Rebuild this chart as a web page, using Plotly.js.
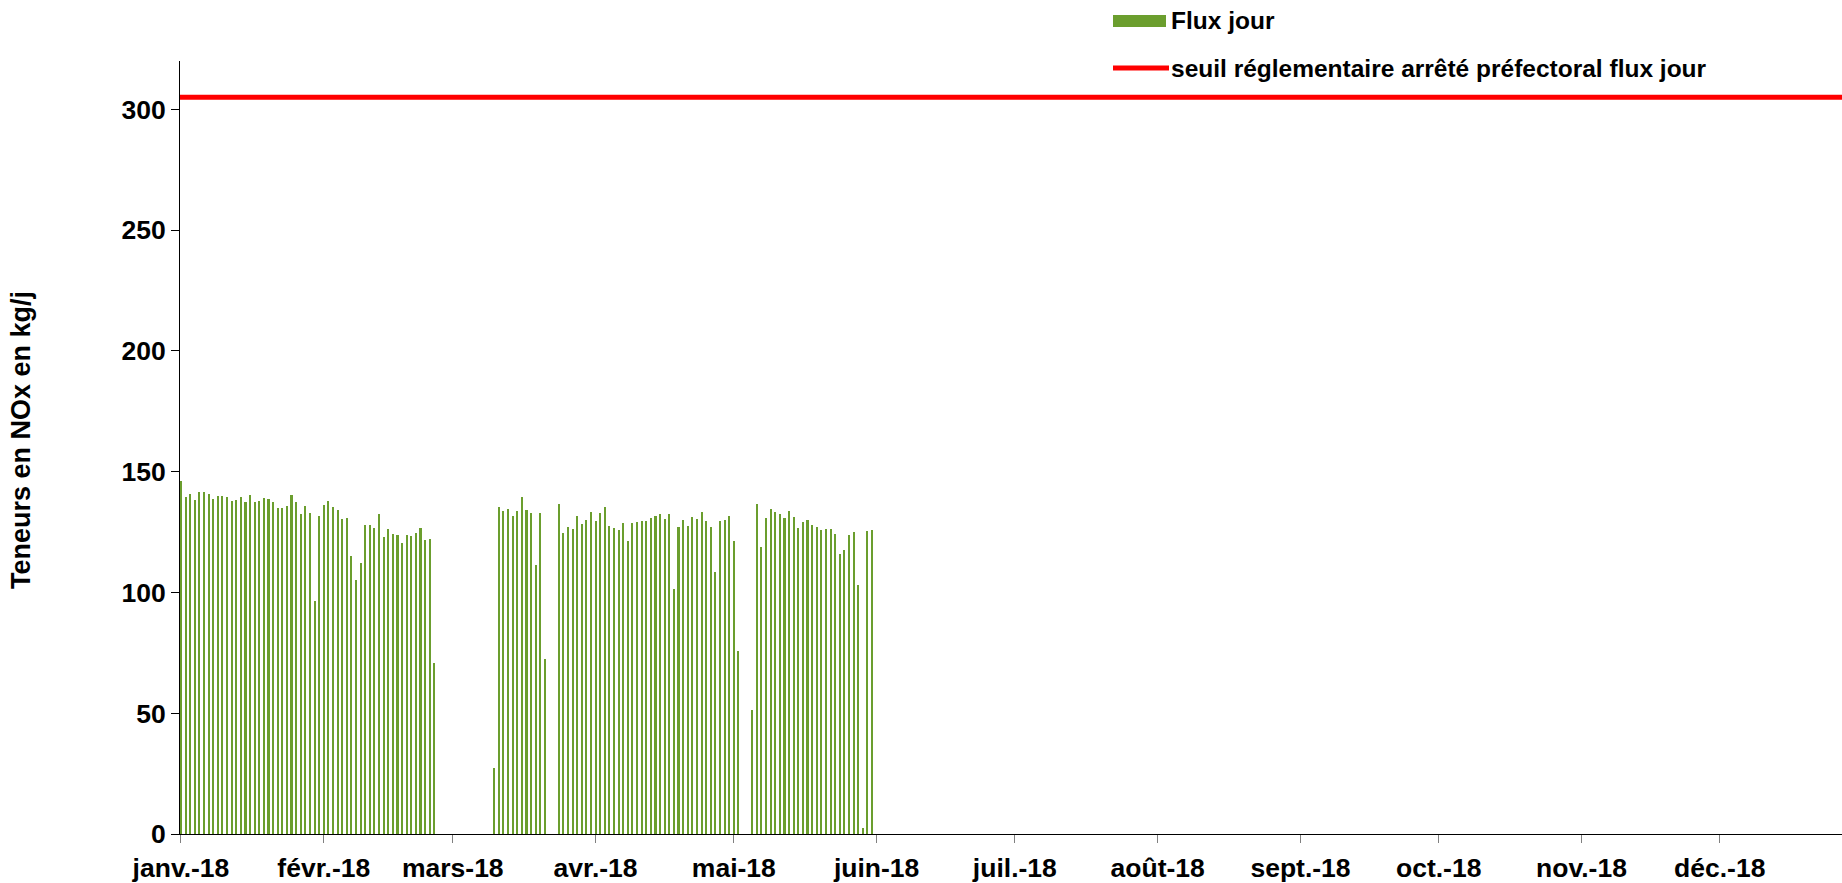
<!DOCTYPE html>
<html>
<head>
<meta charset="utf-8">
<script src="https://cdn.plot.ly/plotly-3.0.1.min.js"></script>
<style>html,body{margin:0;padding:0;background:#fff;}#chart{width:1842px;height:883px;}</style>
</head>
<body>
<div id="chart"></div>
<script>
// Daily NOx flux (kg/j), one value per day of each month; null = no data
const janvier = [146.3, 139.4, 140.6, 138.3, 141.7, 141.4, 140.6, 138.7, 139.8, 139.8,
                 139.4, 138.0, 138.3, 139.5, 137.6, 140.3, 137.6, 137.9, 139.1, 138.7,
                 137.4, 135.0, 134.8, 135.9, 140.3, 137.6, 132.5, 135.6, 132.7, 96.5, 131.6];
const fevrier = [136.2, 138.0, 135.4, 134.1, 130.3, 130.8, 115.1, 105.1, 112.2, 127.9,
                 127.9, 126.8, 132.5, 122.8, 126.3, 124.1, 123.8, 120.6, 123.8, 123.2,
                 124.5, 126.7, 121.8, 122.1, 70.6, null, null, null];
const mars = [null, null, null, null, null, null, null, null, null, 27.5,
              135.2, 133.8, 134.7, 131.6, 133.7, 139.6, 134.1, 132.7, 111.2, 133.0,
              72.3, null, null, 136.6, 124.6, 127.0, 126.3, 131.5, 128.5, 129.8, 133.3];
const avril = [129.4, 132.9, 135.5, 127.5, 126.5, 125.7, 128.7, 121.3, 128.6, 129.0,
               129.6, 129.4, 130.7, 131.5, 132.5, 130.3, 132.5, 101.3, 127.0, 129.8,
               127.5, 131.1, 130.4, 133.2, 129.7, 127.0, 108.5, 129.6, 130.1, 131.5];
const mai = [121.2, 75.6, null, null, 51.4, 136.5, 118.8, 130.7, 134.4, 133.3,
             132.3, 130.8, 133.6, 131.1, 126.8, 129.0, 129.8, 127.8, 127.0, 125.7,
             126.3, 126.1, 124.3, 115.9, 117.6, 123.6, 125.0, 103.2, 2.3, 125.4, 125.8];
const months = [janvier, fevrier, mars, avril, mai];

const seuil = 305;
const tickDates = ['2018-01-01','2018-02-01','2018-03-01','2018-04-01','2018-05-01','2018-06-01',
                   '2018-07-01','2018-08-01','2018-09-01','2018-10-01','2018-11-01','2018-12-01'];
const tickLabels = ['janv.-18','févr.-18','mars-18','avr.-18','mai-18','juin-18',
                    'juil.-18','août-18','sept.-18','oct.-18','nov.-18','déc.-18'];

const dates = [], values = [];
months.forEach((arr, m) => {
  arr.forEach((v, i) => {
    const mm = String(m + 1).padStart(2, '0');
    const dd = String(i + 1).padStart(2, '0');
    dates.push('2018-' + mm + '-' + dd);
    values.push(v);
  });
});

const GREEN = '#6B9E2E';
const RED = '#FF0000';
const FONT = 'Liberation Sans, Arial, sans-serif';

// plot area in pixels
const L = 180, R = 1842, T = 61, B = 834;
const px2x = p => (p - L) / (R - L);
const px2y = p => (B - p) / (B - T);

const traces = [
  {
    type: 'bar', name: 'Flux jour', x: dates, y: values,
    width: 0.45 * 86400000,
    marker: {color: GREEN, line: {width: 0}},
    showlegend: false, hoverinfo: 'x+y'
  },
  {
    type: 'scatter', mode: 'lines', name: 'seuil réglementaire arrêté préfectoral flux jour',
    x: ['2017-12-31', '2018-12-31'], y: [seuil, seuil],
    line: {color: RED, width: 5},
    showlegend: false
  }
];

const layout = {
  width: 1842, height: 883,
  margin: {l: L, r: 1842 - R, t: T, b: 883 - B, pad: 0},
  paper_bgcolor: '#fff', plot_bgcolor: '#fff',
  showlegend: false,
  bargap: 0,
  xaxis: {
    type: 'date',
    range: ['2017-12-31 19:00', '2018-12-27 13:00'],
    tickmode: 'array', tickvals: tickDates, ticktext: tickLabels,
    ticks: 'outside', ticklen: 8, tickwidth: 1, tickcolor: '#808080',
    ticklabelstandoff: 2,
    showline: true, linecolor: '#000', linewidth: 1,
    showgrid: false, zeroline: false, automargin: false,
    tickfont: {family: FONT, size: 26.5, color: '#000', weight: 'bold'}
  },
  yaxis: {
    range: [0, 320],
    tickvals: [0, 50, 100, 150, 200, 250, 300],
    ticks: 'outside', ticklen: 8, tickwidth: 1, tickcolor: '#000',
    showline: true, linecolor: '#000', linewidth: 1,
    layer: 'below traces',
    showgrid: false, zeroline: false, automargin: false,
    tickfont: {family: FONT, size: 26.5, color: '#000', weight: 'bold'}
  },
  shapes: [
    {type: 'rect', xref: 'paper', yref: 'paper',
     x0: px2x(1113), x1: px2x(1166), y0: px2y(27), y1: px2y(15),
     fillcolor: GREEN, line: {width: 0}},
    {type: 'line', xref: 'paper', yref: 'paper',
     x0: px2x(1113), x1: px2x(1169), y0: px2y(68), y1: px2y(68),
     line: {color: RED, width: 5}}
  ],
  annotations: [
    {xref: 'paper', yref: 'paper', x: px2x(1169), y: px2y(21), xanchor: 'left', yanchor: 'middle',
     text: 'Flux jour', showarrow: false,
     font: {family: FONT, size: 24.5, color: '#000', weight: 'bold'}},
    {xref: 'paper', yref: 'paper', x: px2x(1169), y: px2y(68), xanchor: 'left', yanchor: 'middle',
     text: 'seuil réglementaire arrêté préfectoral flux jour', showarrow: false,
     font: {family: FONT, size: 24.5, color: '#000', weight: 'bold'}},
    {xref: 'paper', yref: 'paper', x: px2x(21), y: px2y(440), xanchor: 'center', yanchor: 'middle',
     text: 'Teneurs en NOx en kg/j', textangle: -90, showarrow: false,
     font: {family: FONT, size: 27, color: '#000', weight: 'bold'}}
  ]
};

Plotly.newPlot('chart', traces, layout, {displayModeBar: false, staticPlot: true});
</script>
</body>
</html>
